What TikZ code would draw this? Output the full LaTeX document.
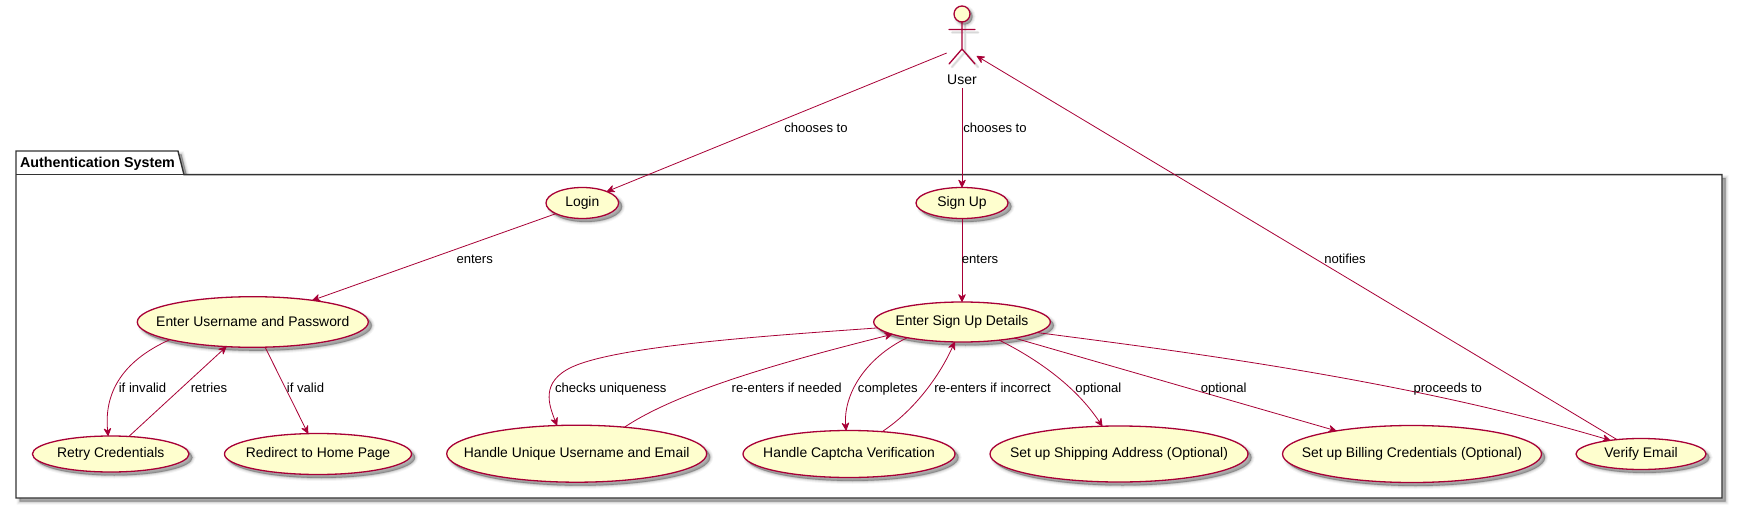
\documentclass[tikz,border=0pt]{standalone}
\usepackage{fontspec}
\setmainfont{Liberation Sans}
\usetikzlibrary{arrows.meta,shapes.geometric}
\definecolor{umlred}{HTML}{A80036}
\definecolor{umlfill}{HTML}{FEFECE}
\definecolor{framegray}{HTML}{333333}
\newcommand{\uclabel}[1]{\makebox[0pt][c]{#1}}
\tikzset{
  softshadow/.style={
    preaction={draw=black,fill=black,line width=6pt,draw opacity=.04,fill opacity=.04,transform canvas={shift={(#1,-#1)}}},
    preaction={draw=black,fill=black,line width=4pt,draw opacity=.06,fill opacity=.06,transform canvas={shift={(#1,-#1)}}},
    preaction={draw=black,fill=black,line width=2pt,draw opacity=.09,fill opacity=.09,transform canvas={shift={(#1,-#1)}}},
    preaction={draw=black,fill=black,line width=.3pt,draw opacity=.14,fill opacity=.14,transform canvas={shift={(#1,-#1)}}}
  },
  usecase/.style={ellipse,draw=umlred,fill=umlfill,line width=1.3pt,inner sep=0pt,outer sep=0pt,
    font=\fontsize{13.9pt}{16pt}\selectfont,softshadow=3.5pt},
  edgetext/.style={inner sep=0pt,outer sep=0pt,text height=10pt,text depth=3pt,
    font=\fontsize{13.1pt}{15pt}\selectfont},
  link/.style={draw=umlred,line width=.8pt,-{Stealth[length=9pt,width=8.5pt,inset=3pt,round]}},
  limb/.style={draw=umlred,line width=1.3pt,line cap=round},
}
\begin{document}
\begin{tikzpicture}[x=1pt,y=-1pt]
\useasboundingbox (0,0) rectangle (1739,505);
% package
\path[softshadow=3.5pt] (16,498) -- (16,151) -- (178,151) -- (184,174.7) -- (1722,174.7) -- (1722,498) -- cycle;
\draw[fill=white,draw=framegray,line width=1.4pt] (16,498) -- (16,151) -- (178,151) -- (184,174.7) -- (1722,174.7) -- (1722,498) -- cycle;
\draw[draw=framegray,line width=1.4pt] (16,174.7) -- (184,174.7);
\node[inner sep=0pt,font=\bfseries\fontsize{14.3pt}{16pt}\selectfont,text height=10pt,text depth=3pt] (pkgtitle) at (97.5,164) {Authentication System};
% actor
\node[circle,draw=umlred,fill=umlfill,line width=1.3pt,minimum size=16pt,inner sep=0pt,outer sep=0pt,softshadow=2.5pt] (head) at (962,14) {};
\coordinate (hip) at (962,49);
\coordinate (armL) at (949,29.5);
\coordinate (armR) at (975,29.5);
\coordinate (legL) at (949,64);
\coordinate (legR) at (975,64);
\begin{scope}[transform canvas={shift={(3pt,-3pt)}}]
\draw[limb,draw=black,draw opacity=.06,line width=3pt] (head.south) -- (hip) (armL) -- (armR) (legL) -- (hip) -- (legR);
\draw[limb,draw=black,draw opacity=.1,line width=1.5pt] (head.south) -- (hip) (armL) -- (armR) (legL) -- (hip) -- (legR);
\end{scope}
\draw[limb] (head.south) -- (hip) (armL) -- (armR) (legL) -- (hip) -- (legR);
\node[inner sep=0pt,font=\fontsize{14pt}{16pt}\selectfont,text height=10pt,text depth=3pt] (user) at (962,81) {User};
\coordinate (userL) at (946.7,53);
\coordinate (userB) at (962,88);
\coordinate (userR) at (976.7,56);
% use cases
\node[usecase,minimum width=72.6pt,minimum height=31pt] (login) at (582.3,203) {\uclabel{Login}};
\node[usecase,minimum width=92pt,minimum height=31pt] (signup) at (962,203) {\uclabel{Sign Up}};
\node[usecase,minimum width=231pt,minimum height=50.6pt] (eup) at (252.8,322) {\uclabel{\raisebox{1.5pt}{Enter Username and Password}}};
\node[usecase,minimum width=176.6pt,minimum height=40pt] (esd) at (962,322) {\uclabel{Enter Sign Up Details}};
\node[usecase,minimum width=156.6pt,minimum height=36pt] (retry) at (110.7,454) {\uclabel{Retry Credentials}};
\node[usecase,minimum width=187pt,minimum height=41pt] (home) at (318,454) {\uclabel{Redirect to Home Page}};
\node[usecase,minimum width=260pt,minimum height=57pt] (unique) at (576.7,453.7) {\uclabel{Handle Unique Username and Email}};
\node[usecase,minimum width=212pt,minimum height=47pt] (captcha) at (849,454) {\uclabel{Handle Captcha Verification}};
\node[usecase,minimum width=258pt,minimum height=56pt] (ship) at (1119,454) {\uclabel{Set up Shipping Address (Optional)}};
\node[usecase,minimum width=259pt,minimum height=57pt] (bill) at (1412,454) {\uclabel{Set up Billing Credentials (Optional)}};
\node[usecase,minimum width=130pt,minimum height=31pt] (verify) at (1641,454) {\uclabel{Verify Email}};
% connectors
\path[link] (userL) -- (login.25.3);
\path[link] (userB) -- (signup.north);
\path[link] (verify.149) -- (userR);
\path[link] (login.202) -- (eup.20.4);
\path[link] (signup.south) -- (esd.north);
\path[link] (eup.192.4) .. controls (120,362) and (104,395) .. (retry.98.5);
\path[link] (retry.44) -- (eup.223.5);
\path[link] (eup.296.4) -- (home.116);
\path[link] (esd.184) .. controls (780,335) and (620,345) .. (572,367) .. controls (540,382) and (549,405) .. (unique.125);
\path[link] (unique.29) .. controls (680,390) and (790,360) .. (esd.190.7);
\path[link] (esd.196.5) .. controls (865,358) and (843,395) .. (captcha.97.8);
\path[link] (captcha.34.2) .. controls (915,410) and (940,375) .. (esd.250.4);
\path[link] (esd.334.8) .. controls (1035,358) and (1075,385) .. (ship.121.7);
\path[link] (esd.343.4) -- (bill.163.9);
\path[link] (esd.352.5) .. controls (1170,350) and (1400,378) .. (verify.156.4);
% labels
\node[edgetext] (l1) at (816,129) {chooses to};
\node[edgetext] (l2) at (995,129) {chooses to};
\node[edgetext] (l3) at (474.7,259.6) {enters};
\node[edgetext] (l4) at (980,259.6) {enters};
\node[edgetext] (l5) at (1345,259.6) {notifies};
\node[edgetext] (l6) at (142.5,388.6) {if invalid};
\node[edgetext] (l7) at (209,388.6) {retries};
\node[edgetext] (l8) at (305.5,388.6) {if valid};
\node[edgetext] (l9) at (610.8,388.6) {checks uniqueness};
\node[edgetext] (l10) at (786.7,388.6) {re-enters if needed};
\node[edgetext] (l11) at (887.8,388.6) {completes};
\node[edgetext] (l12) at (992.5,388.6) {re-enters if incorrect};
\node[edgetext] (l13) at (1098.4,388.6) {optional};
\node[edgetext] (l14) at (1223.7,388.6) {optional};
\node[edgetext] (l15) at (1447.8,388.6) {proceeds to};
\end{tikzpicture}
\end{document}
